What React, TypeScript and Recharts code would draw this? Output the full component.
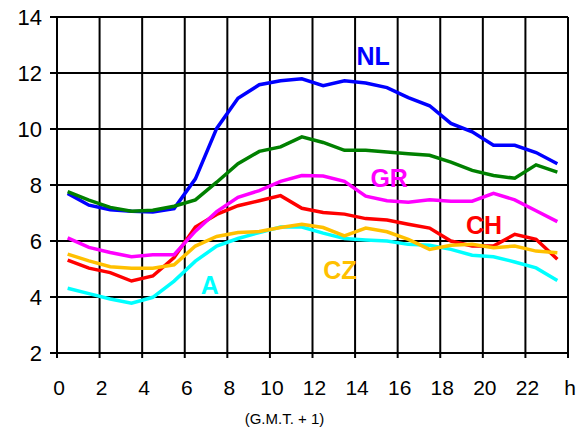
import {
    LineChart,
    Line,
    CartesianGrid,
    XAxis,
    YAxis,
    Label,
    ReferenceDot,
} from "recharts";

// hour of day (mid-hour points), G.M.T. + 1
const hours = [
    0.5, 1.5, 2.5, 3.5, 4.5, 5.5, 6.5, 7.5, 8.5, 9.5, 10.5, 11.5, 12.5, 13.5,
    14.5, 15.5, 16.5, 17.5, 18.5, 19.5, 20.5, 21.5, 22.5, 23.5,
];

const nl = [
    7.7, 7.28, 7.12, 7.06, 7.04, 7.16, 8.22, 10.02, 11.1, 11.58, 11.72, 11.79,
    11.55, 11.72, 11.64, 11.48, 11.12, 10.83, 10.2, 9.9, 9.42, 9.42, 9.16, 8.76,
];
const green = [
    7.76, 7.46, 7.2, 7.06, 7.1, 7.24, 7.47, 8.1, 8.76, 9.2, 9.36, 9.72, 9.52,
    9.24, 9.24, 9.18, 9.12, 9.06, 8.82, 8.52, 8.34, 8.24, 8.72, 8.46,
];
const gr = [
    6.11, 5.77, 5.59, 5.44, 5.51, 5.51, 6.35, 7.05, 7.56, 7.8, 8.13, 8.34, 8.32,
    8.13, 7.6, 7.44, 7.38, 7.47, 7.42, 7.42, 7.7, 7.47, 7.08, 6.69,
];
const ch = [
    5.32, 5.03, 4.87, 4.57, 4.75, 5.41, 6.5, 6.95, 7.26, 7.44, 7.62, 7.17, 7.02,
    6.96, 6.8, 6.75, 6.6, 6.46, 6.0, 5.82, 5.82, 6.24, 6.06, 5.35,
];
const cz = [
    5.53, 5.29, 5.08, 5.03, 5.03, 5.15, 5.82, 6.16, 6.3, 6.34, 6.48, 6.6, 6.48,
    6.18, 6.46, 6.33, 6.06, 5.7, 5.85, 5.88, 5.76, 5.82, 5.64, 5.58,
];
const a = [
    4.31, 4.12, 3.93, 3.78, 3.99, 4.57, 5.28, 5.82, 6.09, 6.3, 6.5, 6.5, 6.28,
    6.09, 6.04, 6.0, 5.88, 5.85, 5.7, 5.49, 5.44, 5.25, 5.04, 4.59,
];

const xTicks = [0, 2, 4, 6, 8, 10, 12, 14, 16, 18, 20, 22, 24];
const yTicks = [2, 4, 6, 8, 10, 12, 14];

// series name tags, placed in data coordinates
const tagNames = ["NL", "GR", "CH", "CZ", "A"];
const tagHours = [14.85, 15.6, 20.06, 13.29, 7.18];
const tagValues = [12.59, 8.23, 6.57, 4.96, 4.42];
const tagColors = ["#0000ff", "#ff00ff", "#ff0000", "#ffc000", "#00ffff"];

const FONT = "'Liberation Sans', Arial, sans-serif";

const chartData = hours.map((h, i) => ({
    hour: h,
    NL: nl[i],
    G: green[i],
    GR: gr[i],
    CH: ch[i],
    CZ: cz[i],
    A: a[i],
}));

export default function App() {
    return (
        <div
            style={{
                position: "absolute",
                left: 0,
                top: 0,
                width: 587,
                height: 432,
                background: "#fff",
                fontFamily: FONT,
            }}
        >
            <LineChart
                width={587}
                height={432}
                data={chartData}
                margin={{ top: 17, right: 19, bottom: 0, left: 0 }}
            >
                <CartesianGrid
                    stroke="#000"
                    strokeWidth={2}
                    horizontalValues={yTicks}
                    verticalValues={xTicks}
                />
                <XAxis
                    dataKey="hour"
                    type="number"
                    domain={[0, 24]}
                    ticks={xTicks}
                    interval={0}
                    height={79}
                    tickSize={5}
                    tickMargin={22}
                    axisLine={{ stroke: "#000", strokeWidth: 2 }}
                    tickLine={{ stroke: "#000", strokeWidth: 2 }}
                    tick={{ fill: "#000", fontSize: 21, fontFamily: FONT, dx: 2 }}
                    tickFormatter={(v: number) => (v === 24 ? "h" : String(v))}
                >
                    <Label
                        content={({ viewBox }: any) => (
                            <text
                                x={viewBox.x + viewBox.width / 2 - 28}
                                y={viewBox.y + viewBox.height - 8}
                                textAnchor="middle"
                                fontSize={15}
                                fontFamily={FONT}
                                fill="#000"
                            >
                                (G.M.T. + 1)
                            </text>
                        )}
                    />
                </XAxis>
                <YAxis
                    type="number"
                    domain={[2, 14]}
                    ticks={yTicks}
                    interval={0}
                    width={57}
                    tickSize={7}
                    tickMargin={8}
                    axisLine={{ stroke: "#000", strokeWidth: 2 }}
                    tickLine={{ stroke: "#000", strokeWidth: 2 }}
                    tick={{ fill: "#000", fontSize: 22, fontFamily: FONT }}
                />

                <Line type="linear" dataKey="NL" stroke="#0000ff" strokeWidth={3.5} dot={false} isAnimationActive={false} />
                <Line type="linear" dataKey="G" stroke="#008000" strokeWidth={3.5} dot={false} isAnimationActive={false} />
                <Line type="linear" dataKey="CH" stroke="#ff0000" strokeWidth={3.5} dot={false} isAnimationActive={false} />
                <Line type="linear" dataKey="GR" stroke="#ff00ff" strokeWidth={3.5} dot={false} isAnimationActive={false} />
                <Line type="linear" dataKey="A" stroke="#00ffff" strokeWidth={3.5} dot={false} isAnimationActive={false} />
                <Line type="linear" dataKey="CZ" stroke="#ffc000" strokeWidth={3.5} dot={false} isAnimationActive={false} />

                {tagNames.map((name, i) => (
                    <ReferenceDot
                        key={name}
                        x={tagHours[i]}
                        y={tagValues[i]}
                        r={0}
                        fill="none"
                        stroke="none"
                        label={{
                            value: name,
                            position: "center",
                            fill: tagColors[i],
                            fontSize: 25,
                            fontWeight: "bold",
                            fontFamily: FONT,
                        }}
                    />
                ))}
            </LineChart>
        </div>
    );
}
